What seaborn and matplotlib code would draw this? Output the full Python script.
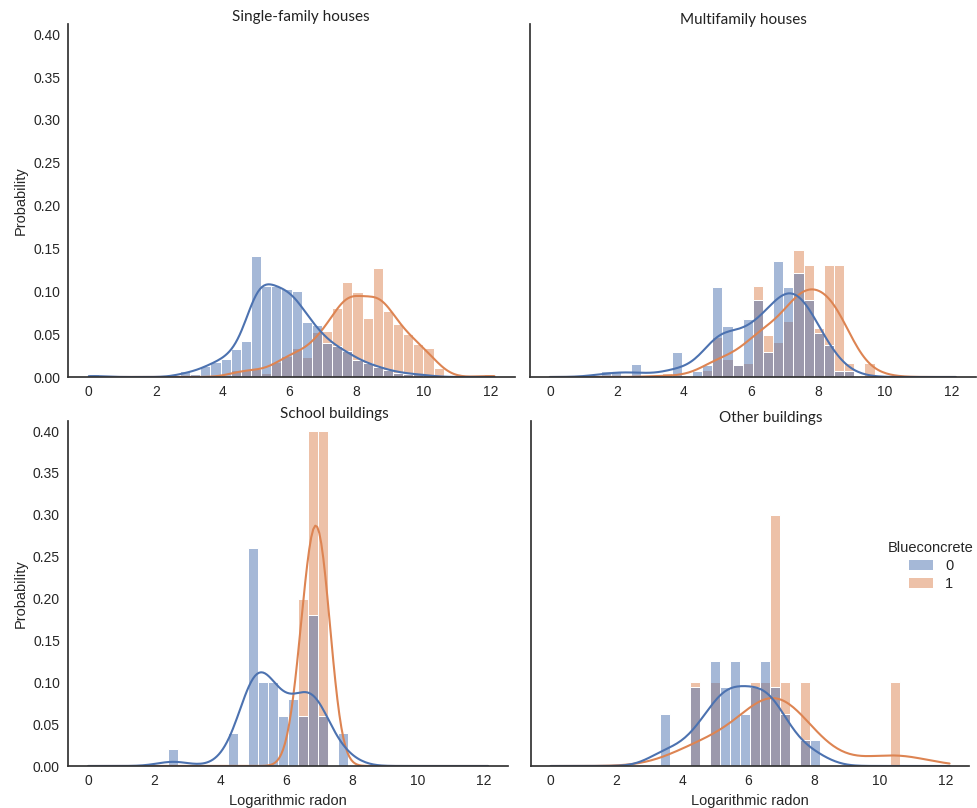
import numpy as np
import pandas as pd
import matplotlib
matplotlib.use("Agg")
import matplotlib.pyplot as plt
import seaborn as sns
from matplotlib.patches import Patch
from matplotlib.colors import to_rgba

sns.set_theme(style="white")
plt.rcParams['font.family'] = ['Liberation Sans', 'DejaVu Sans']

# ---------------- data ----------------
N_BINS = 40
X_MIN, X_MAX = 0.0, 12.12
edges = np.linspace(X_MIN, X_MAX, N_BINS + 1)
centers = (edges[:-1] + edges[1:]) / 2

panels = ["Single-family houses", "Multifamily houses", "School buildings", "Other buildings"]
hue_name = "Blueconcrete"
hue_levels = [0, 1]

# probability per bin (40 bins), Blueconcrete = 0 / 1
sf_0 = [0.003, 0, 0, 0, 0, 0, 0, 0, 0, 0.007,
        0.004, 0.013, 0.0175, 0.021, 0.032, 0.041, 0.139, 0.104, 0.104, 0.101,
        0.099, 0.063, 0.060, 0.039, 0.035, 0.030, 0.019, 0.016, 0.012, 0.008,
        0.005, 0.004, 0.003, 0.002, 0, 0, 0, 0, 0, 0]
sf_1 = [0, 0, 0, 0, 0, 0, 0, 0, 0, 0,
        0, 0, 0, 0, 0.008, 0.008, 0.010, 0.005, 0.018, 0.025,
        0.035, 0.024, 0.054, 0.055, 0.083, 0.114, 0.102, 0.071, 0.130, 0.079,
        0.063, 0.051, 0.039, 0.035, 0.011, 0, 0, 0, 0, 0.0035]
mf_0 = [0, 0, 0, 0, 0, 0.0074, 0.0074, 0, 0.0144, 0,
        0, 0, 0.029, 0, 0.0066, 0.0136, 0.103, 0.059, 0.014, 0.066,
        0.088, 0.029, 0.133, 0.103, 0.119, 0.088, 0.051, 0.037, 0.0074, 0.0074,
        0, 0, 0, 0, 0, 0, 0, 0, 0, 0]
mf_1 = [0, 0, 0, 0, 0, 0, 0, 0, 0, 0,
        0, 0.005, 0, 0, 0, 0.0074, 0.045, 0.020, 0.0144, 0.0155,
        0.103, 0.047, 0.040, 0.063, 0.143, 0.126, 0.055, 0.126, 0.126, 0.0155,
        0, 0.0155, 0, 0, 0, 0, 0, 0, 0, 0]
sc_0 = [0, 0, 0, 0, 0, 0, 0, 0, 0.02, 0,
        0, 0, 0, 0, 0.04, 0, 0.26, 0.10, 0.10, 0.06,
        0.08, 0.06, 0.18, 0.06, 0, 0.04, 0, 0, 0, 0,
        0, 0, 0, 0, 0, 0, 0, 0, 0, 0]
sc_1 = [0, 0, 0, 0, 0, 0, 0, 0, 0, 0,
        0, 0, 0, 0, 0, 0, 0, 0, 0, 0,
        0, 0.2, 0.4, 0.4, 0, 0, 0, 0, 0, 0,
        0, 0, 0, 0, 0, 0, 0, 0, 0, 0]
ot_0 = [0, 0, 0, 0, 0, 0, 0, 0, 0, 0,
        0, 2, 0, 0, 3, 0, 4, 3, 4, 2,
        3, 4, 3, 2, 0, 1, 1, 0, 0, 0,
        0, 0, 0, 0, 0, 0, 0, 0, 0, 0]
ot_1 = [0, 0, 0, 0, 0, 0, 0, 0, 0, 0,
        0, 0, 0, 0, 1, 0, 1, 0, 0, 0,
        1, 1, 3, 1, 0, 1, 0, 0, 0, 0,
        0, 0, 0, 0, 1, 0, 0, 0, 0, 0]

values = {
    panels[0]: (sf_0, sf_1),
    panels[1]: (mf_0, mf_1),
    panels[2]: (sc_0, sc_1),
    panels[3]: (ot_0, ot_1),
}
# kde bandwidth adjustments (per panel, per level)
bw = {
    panels[0]: (0.45, 0.5),
    panels[1]: (0.6, 0.75),
    panels[2]: (0.68, 1.5),
    panels[3]: (0.75, 0.85),
}

rows = []
for p in panels:
    for lev, vals in zip(hue_levels, values[p]):
        for c, w in zip(centers, vals):
            rows.append((p, lev, c, w))
        # range of the whole data set (zero weight)
        rows.append((p, lev, X_MIN, 0.0))
        rows.append((p, lev, X_MAX, 0.0))
df = pd.DataFrame(rows, columns=["panel", hue_name, "x", "w"])

palette = sns.color_palette("deep", 2)

# ---------------- layout ----------------
W, H = 978, 808
fig = plt.figure(figsize=(W / 100, H / 100), dpi=100)

def rect(l, t, r, b):
    return [l / W, 1 - b / H, (r - l) / W, (b - t) / H]

rects = [rect(68.5, 24, 514.7, 377), rect(529.7, 24, 976, 377),
         rect(68.3, 421, 508, 766), rect(530.8, 421, 969.5, 766)]
title_pos = [(301, 17), (743, 20), (334, 414), (771, 418)]

for i, p in enumerate(panels):
    ax = fig.add_axes(rects[i])
    sub = df[df["panel"] == p]
    for lev in reversed(hue_levels):
        d = sub[sub[hue_name] == lev]
        sns.histplot(data=d, x="x", weights="w", bins=list(edges), stat="probability",
                     kde=True, color=palette[lev], alpha=0.5,
                     kde_kws=dict(bw_adjust=bw[p][lev]),
                     line_kws=dict(linewidth=1.5), ax=ax)
    ax.set_ylim(0, 0.412)
    ax.set_yticks(np.arange(0, 0.41, 0.05))
    ax.set_xticks(np.arange(0, 13, 2))
    ax.tick_params(labelsize=10, length=0, pad=6)
    sns.despine(ax=ax)
    for s in ["left", "bottom"]:
        ax.spines[s].set_color("#333333")
        ax.spines[s].set_linewidth(1.25)
    if i % 2 == 0:
        ax.set_ylabel("Probability", fontsize=10.5)
        ax.yaxis.set_major_formatter(matplotlib.ticker.FormatStrFormatter("%.2f"))
    else:
        ax.set_ylabel("")
        ax.set_yticklabels([])
    if i >= 2:
        ax.set_xlabel("Logarithmic radon", fontsize=10.5)
    else:
        ax.set_xlabel("")
    tx, ty = title_pos[i]
    fig.text(tx / W, 1 - ty / H, p, ha="center", va="center",
             family=["Lato", "DejaVu Sans"], fontsize=11, color="#222222")

handles = [Patch(facecolor=to_rgba(palette[k], 0.5), edgecolor="none") for k in hue_levels]
fig.legend(handles, [str(k) for k in hue_levels], title=hue_name, loc="center",
           bbox_to_anchor=(931 / W, 1 - 566 / H), frameon=False,
           fontsize=10.5, title_fontsize=10.5, handlelength=1.7,
           labelspacing=0.3)

fig.savefig("out.png", dpi=100)
